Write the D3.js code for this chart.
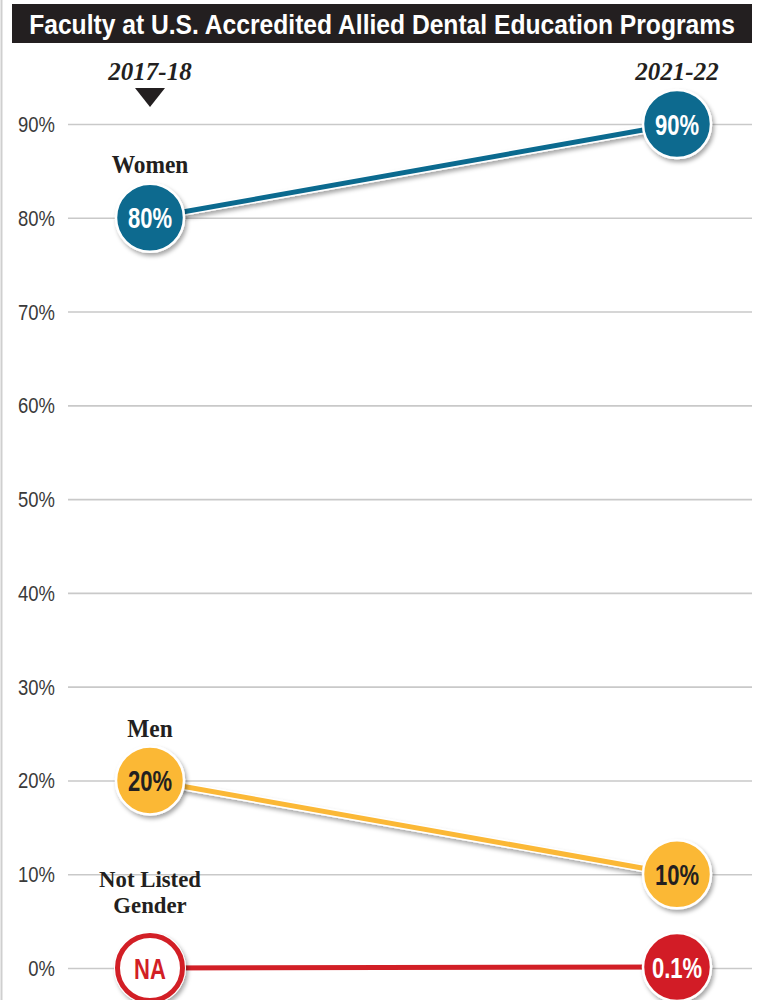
<!DOCTYPE html>
<html>
<head>
<meta charset="utf-8">
<script src="https://cdn.jsdelivr.net/npm/d3@7/dist/d3.min.js"></script>
<style>
  html, body { margin: 0; padding: 0; background: #fff; }
  svg { display: block; }
</style>
</head>
<body>
<svg id="chart" width="757" height="1000"></svg>
<script>
// Academic years compared
const years = ["2017-18", "2021-22"];
// Share of faculty by gender (percent); null = not available
const women = [80, 90];
const men = [20, 10];
const notListed = [null, 0.1];
// Labels shown inside the markers
const womenLabels = ["80%", "90%"];
const menLabels = ["20%", "10%"];
const notListedLabels = ["NA", "0.1%"];
// Y-axis ticks
const yTicks = [0, 10, 20, 30, 40, 50, 60, 70, 80, 90];

const title = "Faculty at U.S. Accredited Allied Dental Education Programs";

const W = 757, H = 1000;
const svg = d3.select("#chart");

const x = d3.scalePoint().domain(years).range([150, 677]);
const y = d3.scaleLinear().domain([0, 90]).range([968, 124]);

const sans = "'Liberation Sans', Arial, sans-serif";
const serif = "'Liberation Serif', 'Times New Roman', serif";

// Draws a horizontally condensed text anchored at (px, py); may hold several rows
function condensed(parent, px, py, str, opts) {
  const g = parent.append("g").attr("transform", `translate(${px},${py}) scale(${opts.scale},1)`);
  const t = g.append("text").attr("x", 0).attr("y", 0)
    .attr("text-anchor", opts.anchor || "middle")
    .attr("font-family", opts.family || sans)
    .attr("font-weight", opts.weight || "normal")
    .attr("font-size", opts.size)
    .attr("fill", opts.fill);
  const rows = Array.isArray(str) ? str : [str];
  if (rows.length === 1) {
    t.text(rows[0]);
  } else {
    rows.forEach((r, i) => {
      t.append("tspan").attr("x", 0).attr("dy", i === 0 ? 0 : opts.lineGap).text(r);
    });
  }
  return t;
}

const defs = svg.append("defs");
const shadow = defs.append("filter").attr("id", "shadow")
  .attr("x", "-30%").attr("y", "-30%").attr("width", "160%").attr("height", "160%");
shadow.append("feDropShadow")
  .attr("dx", 2).attr("dy", 3).attr("stdDeviation", 2)
  .attr("flood-color", "#000").attr("flood-opacity", 0.35);

// left rule
svg.append("line").attr("x1", 1.5).attr("x2", 1.5).attr("y1", 0).attr("y2", H)
  .attr("stroke", "#cfcfcf").attr("stroke-width", 2);

// title bar
svg.append("rect").attr("x", 12).attr("y", 4).attr("width", 740).attr("height", 39).attr("fill", "#231f20");
const tt = condensed(svg, 382, 34, title, { scale: 1, size: 28, weight: "bold", fill: "#fff" });
const natural = tt.node().getComputedTextLength();
d3.select(tt.node().parentNode).attr("transform", `translate(382,34) scale(${706 / natural},1)`);

// gridlines
const axis = d3.axisLeft(y).tickValues(yTicks).tickSize(-(752 - 68)).tickFormat("");
const gAxis = svg.append("g").attr("transform", "translate(68,0)").call(axis);
gAxis.select(".domain").remove();
gAxis.selectAll(".tick line").attr("stroke", "#c9c9c9").attr("stroke-width", 1.6);
gAxis.selectAll(".tick text").remove();

// tick labels
yTicks.forEach(v => {
  condensed(svg, 55, y(v) + 8, v + "%", { scale: 0.84, size: 22, anchor: "end", fill: "#3a3a3a" });
});

// year headers
svg.selectAll(".year").data(years).join("text")
  .attr("class", "year")
  .attr("x", d => x(d)).attr("y", 80)
  .attr("text-anchor", "middle")
  .attr("font-family", serif).attr("font-style", "italic").attr("font-weight", "bold")
  .attr("font-size", 25).attr("fill", "#231f20")
  .text(d => d);

// pointer under the first year
const tx = x(years[0]);
svg.append("path")
  .attr("d", `M${tx - 15},88 L${tx + 15},88 L${tx},107 Z`)
  .attr("fill", "#231f20");

const series = [
  { name: "women", vals: women, labels: womenLabels, color: "#0b6a8f", text: "#fff" },
  { name: "men", vals: men, labels: menLabels, color: "#fbb836", text: "#231f20" },
  { name: "notListed", vals: notListed, labels: notListedLabels, color: "#d21f26", text: "#fff" }
];

const line = d3.line().x(d => x(d.year)).y(d => y(d.v));
const R = 34;

series.forEach(s => {
  const pts = years.map((yr, i) => ({ year: yr, v: s.vals[i] == null ? 0 : s.vals[i], na: s.vals[i] == null, label: s.labels[i] }));
  const g = svg.append("g");
  // connector with white edge and shadow
  g.append("path").datum(pts).attr("d", line)
    .attr("fill", "none").attr("stroke", "#fff").attr("stroke-width", 8)
    .attr("filter", "url(#shadow)");
  g.append("path").datum(pts).attr("d", line)
    .attr("fill", "none").attr("stroke", s.color).attr("stroke-width", 5);

  pts.forEach(p => {
    const cx = x(p.year), cy = y(p.v);
    const lab = { scale: 0.76, size: 29, weight: "bold" };
    if (p.na) {
      g.append("circle").attr("cx", cx).attr("cy", cy).attr("r", R + 2)
        .attr("fill", "#fff").attr("filter", "url(#shadow)");
      g.append("circle").attr("cx", cx).attr("cy", cy).attr("r", R - 1.5)
        .attr("fill", "#fff").attr("stroke", s.color).attr("stroke-width", 5);
      condensed(g, cx, cy + 10.5, p.label, { ...lab, fill: s.color });
    } else {
      g.append("circle").attr("cx", cx).attr("cy", cy).attr("r", R)
        .attr("fill", s.color).attr("stroke", "#fff").attr("stroke-width", 2.5)
        .attr("filter", "url(#shadow)");
      condensed(g, cx, cy + 10.5, p.label, { ...lab, fill: s.text });
    }
  });
});

// series names beside the first-year markers
const nameOpts = { scale: 0.9, size: 26, weight: "bold", family: serif, fill: "#231f20" };
condensed(svg, x(years[0]), 173, "Women", nameOpts);
condensed(svg, x(years[0]), 737, "Men", nameOpts);
condensed(svg, x(years[0]), 887, ["Not Listed", "Gender"], { ...nameOpts, scale: 0.95, size: 24, lineGap: 26.5 });
</script>
</body>
</html>
